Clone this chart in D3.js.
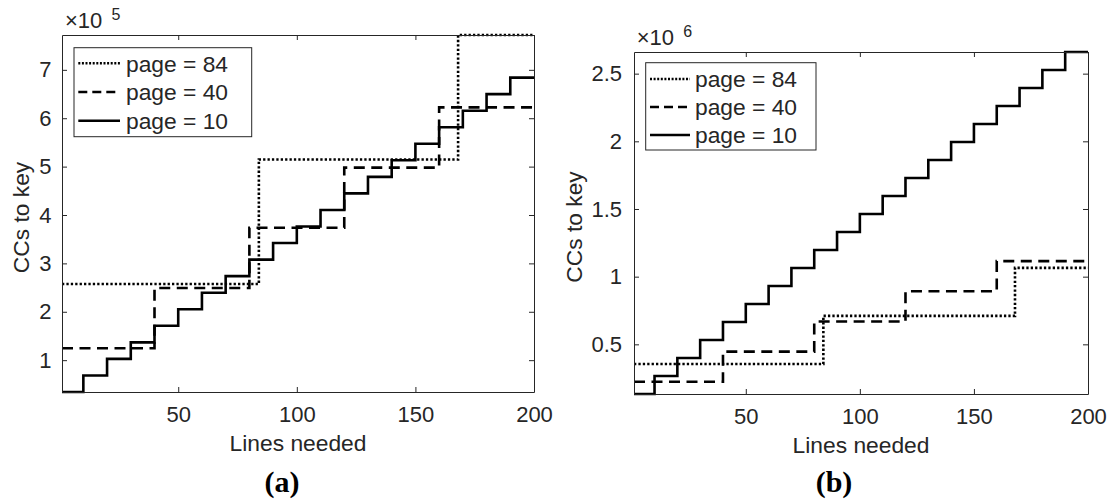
<!DOCTYPE html>
<html>
<head>
<meta charset="utf-8">
<script src="https://cdn.jsdelivr.net/npm/d3@7"></script>
<style>
  html, body { margin: 0; padding: 0; background: #fff; }
  svg { display: block; }
  text { font-family: "Liberation Sans", Arial, Helvetica, sans-serif; fill: #262626; }
</style>
</head>
<body>
<svg id="chart" width="1108" height="502"></svg>
<script>
// ---------- data ----------
const linesDomain = [1, 200];
const xTickValues = [50, 100, 150, 200];
const xTickLabels = ["50", "100", "150", "200"];
const seriesNames = ["page = 84", "page = 40", "page = 10"];

// panel (a): break positions (lines) and CC values for each step
const aPage84Breaks = [1, 84, 168];
const aPage84 = [257300, 514600, 772000];
const aPage40Breaks = [1, 40, 80, 120, 160];
const aPage40 = [124500, 249000, 373500, 498000, 622500];
const aPage10Breaks = [1, 10, 20, 30, 40, 50, 60, 70, 80, 90, 100, 110, 120, 130, 140, 150, 160, 170, 180, 190];
const aPage10 = [34200, 68400, 102600, 136800, 171000, 205200, 239400, 273600, 307800, 342000,
                 376200, 410400, 444600, 478800, 513000, 547200, 581400, 615600, 649800, 684000];
const aYTickValues = [100000, 200000, 300000, 400000, 500000, 600000, 700000];
const aYTickLabels = ["1", "2", "3", "4", "5", "6", "7"];
const aExponent = "5";

// panel (b)
const bPage84Breaks = [1, 84, 168];
const bPage84 = [355000, 710000, 1065000];
const bPage40Breaks = [1, 40, 80, 120, 160];
const bPage40 = [223000, 446000, 669000, 892000, 1115000];
const bPage10Breaks = [1, 10, 20, 30, 40, 50, 60, 70, 80, 90, 100, 110, 120, 130, 140, 150, 160, 170, 180, 190];
const bPage10 = [133000, 266000, 399000, 532000, 665000, 798000, 931000, 1064000, 1197000, 1330000,
                 1463000, 1596000, 1729000, 1862000, 1995000, 2128000, 2261000, 2394000, 2527000, 2660000];
const bYTickValues = [500000, 1000000, 1500000, 2000000, 2500000];
const bYTickLabels = ["0.5", "1", "1.5", "2", "2.5"];
const bExponent = "6";

const captions = ["(a)", "(b)"];

// ---------- drawing ----------
const svg = d3.select("#chart");
const AX = "#262626";
const styles = [
  { dash: "2.3,2.1", width: 2.6 },   // dotted
  { dash: "11,6.5", width: 2.6 },    // dashed
  { dash: null, width: 2.6 }         // solid
];
const legendDash = ["2,1.6", "9,5", null];

function toPoints(breaks, vals, xEnd) {
  const pts = breaks.map((b, i) => [b, vals[i]]);
  pts.push([xEnd, vals[vals.length - 1]]);
  return pts;
}

function drawPanel(cfg) {
  const g = svg.append("g");
  const x = d3.scaleLinear().domain(linesDomain).range([cfg.left, cfg.right]);
  const allVals = cfg.series.flatMap(s => s.vals);
  const y = d3.scaleLinear().domain(d3.extent(allVals)).range([cfg.bottom, cfg.top]);

  // series
  const line = d3.line().x(d => x(d[0])).y(d => y(d[1])).curve(d3.curveStepAfter);
  cfg.series.forEach((s, i) => {
    g.append("path")
      .attr("d", line(toPoints(s.breaks, s.vals, linesDomain[1])))
      .attr("fill", "none")
      .attr("stroke", "#000")
      .attr("stroke-width", styles[i].width)
      .attr("stroke-dasharray", styles[i].dash)
      .attr("stroke-linejoin", "miter");
  });

  // axes
  const tickFs = 22;
  const labFs = 22.8;
  const xb = d3.axisBottom(x).tickValues(xTickValues).tickFormat((d, i) => xTickLabels[i])
    .tickSizeInner(-5).tickSizeOuter(0).tickPadding(14);
  const xt = d3.axisTop(x).tickValues(xTickValues).tickFormat("")
    .tickSizeInner(-5).tickSizeOuter(0);
  const yl = d3.axisLeft(y).tickValues(cfg.yTicks).tickFormat((d, i) => cfg.yLabels[i])
    .tickSizeInner(-5).tickSizeOuter(0).tickPadding(cfg.yPad);
  const yr = d3.axisRight(y).tickValues(cfg.yTicks).tickFormat("")
    .tickSizeInner(-5).tickSizeOuter(0);

  const axG = [
    g.append("g").attr("transform", `translate(0,${cfg.bottom})`).call(xb),
    g.append("g").attr("transform", `translate(0,${cfg.top})`).call(xt),
    g.append("g").attr("transform", `translate(${cfg.left},0)`).call(yl),
    g.append("g").attr("transform", `translate(${cfg.right},0)`).call(yr)
  ];
  axG.forEach(a => {
    a.select(".domain").attr("stroke", AX).attr("stroke-width", 1);
    a.selectAll(".tick line").attr("stroke", AX).attr("stroke-width", 1);
    a.selectAll(".tick text").attr("fill", AX)
      .style("font-family", '"Liberation Sans", Arial, sans-serif')
      .style("font-size", tickFs + "px");
  });

  // axis labels
  g.append("text")
    .attr("x", (cfg.left + cfg.right) / 2)
    .attr("y", cfg.bottom + 58.5)
    .attr("text-anchor", "middle")
    .style("font-size", labFs + "px")
    .text("Lines needed");
  g.append("text")
    .attr("transform", `translate(${cfg.ylabX},${(cfg.top + cfg.bottom) / 2 + 4}) rotate(-90)`)
    .attr("text-anchor", "middle")
    .style("font-size", labFs + "px")
    .text("CCs to key");

  // exponent
  g.append("text").attr("x", cfg.left + cfg.expDx).attr("y", cfg.top - 7)
    .style("font-size", "22px").text("\u00d710");
  g.append("text").attr("x", cfg.left + cfg.expDx + 46.5).attr("y", cfg.top - 15)
    .style("font-size", "16px").text(cfg.exponent);

  // legend
  const L = cfg.legend;
  g.append("rect")
    .attr("x", L.x).attr("y", L.y).attr("width", L.w).attr("height", L.h)
    .attr("fill", "#fff").attr("stroke", AX).attr("stroke-width", 1);
  seriesNames.forEach((name, i) => {
    const ry = L.y + L.first + i * L.step;
    g.append("line")
      .attr("x1", L.x + 4.3).attr("x2", L.x + 4.3 + L.lineLen)
      .attr("y1", ry).attr("y2", ry)
      .attr("stroke", "#000").attr("stroke-width", styles[i].width)
      .attr("stroke-dasharray", legendDash[i]);
    g.append("text")
      .attr("x", L.x + 4.3 + L.lineLen + L.gap)
      .attr("y", ry + 8.4)
      .style("font-size", labFs + "px")
      .text(name);
  });

  // caption
  svg.append("text")
    .attr("x", cfg.capX).attr("y", 492)
    .attr("text-anchor", "middle")
    .style("font-family", '"Liberation Serif", "DejaVu Serif", serif')
    .style("font-weight", "bold")
    .style("font-size", "30px")
    .style("fill", "#000")
    .text(cfg.caption);
}

drawPanel({
  left: 62, right: 534, top: 35, bottom: 392,
  series: [
    { breaks: aPage84Breaks, vals: aPage84 },
    { breaks: aPage40Breaks, vals: aPage40 },
    { breaks: aPage10Breaks, vals: aPage10 }
  ],
  yTicks: aYTickValues, yLabels: aYTickLabels, exponent: aExponent, yPad: 10.5,
  ylabX: 29, expDx: 3,
  legend: { x: 74, y: 47.7, w: 177.7, h: 89, lineLen: 41.7, gap: 6, first: 15.6, step: 28.7 },
  capX: 282, caption: captions[0]
});

drawPanel({
  left: 634, right: 1088, top: 52, bottom: 394,
  series: [
    { breaks: bPage84Breaks, vals: bPage84 },
    { breaks: bPage40Breaks, vals: bPage40 },
    { breaks: bPage10Breaks, vals: bPage10 }
  ],
  yTicks: bYTickValues, yLabels: bYTickLabels, exponent: bExponent, yPad: 12,
  ylabX: 582, expDx: 2.7,
  legend: { x: 645.7, y: 62.7, w: 170.3, h: 87.3, lineLen: 40, gap: 5, first: 16.3, step: 28 },
  capX: 834, caption: captions[1]
});
</script>
</body>
</html>
